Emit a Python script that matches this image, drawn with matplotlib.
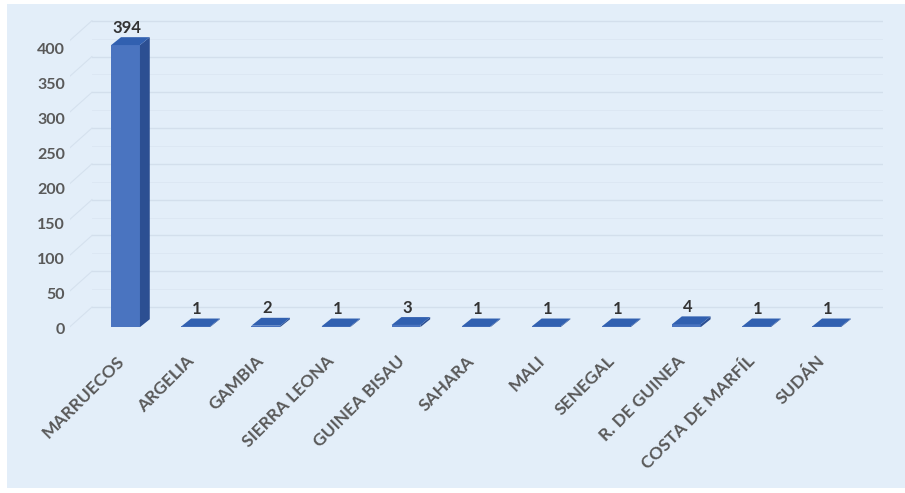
import matplotlib.pyplot as plt
from matplotlib.patches import Polygon, Rectangle

# data
paises = ["MARRUECOS", "ARGELIA", "GAMBIA", "SIERRA LEONA", "GUINEA BISAU",
          "SAHARA", "MALI", "SENEGAL", "R. DE GUINEA", "COSTA DE MARFÍL", "SUDÁN"]
casos = [394, 1, 2, 1, 3, 1, 1, 1, 4, 1, 1]
ticks_y = [0, 50, 100, 150, 200, 250, 300, 350, 400]

plt.rcParams['font.family'] = ['Lato', 'DejaVu Sans']

W, H = 905, 493
fig = plt.figure(figsize=(W / 100, H / 100), dpi=100)
fig.patch.set_facecolor('white')
# light blue panel with a thin white frame
fig.patches.append(Rectangle((7 / W, 5 / H), 1 - 7 / W, 1 - 9 / H,
                             transform=fig.transFigure, facecolor='#e3eef9',
                             edgecolor='none', zorder=-10))

# axes: x from 69.5 to 882.7 px, y from 20 to 340 px
left, right, top, bottom = 69.5, 882.7, 20, 340
ax = fig.add_axes([left / W, 1 - bottom / H, (right - left) / W, (bottom - top) / H])
ax.set_xlim(-0.8, 10.8)
ax.set_ylim(-18, 429)
ax.axis('off')

# depth offsets (bar and back wall)
bdx, bdy = 0.14, 11
wdx, wdy = 0.32, 28
bw = 0.41

# back wall gridlines and left wall diagonals
for v in ticks_y:
    ax.plot([-0.8 + wdx, 10.8], [v + wdy, v + wdy], color='#d3dfec', lw=1.0, zorder=1)
    ax.plot([-0.8, -0.8 + wdx], [v, v + wdy], color='#d5e1ee', lw=0.8, zorder=1)
    ax.plot([-0.8 + wdx, 10.8], [v + 25 + wdy, v + 25 + wdy], color='#dbe6f2', lw=0.6, zorder=1)

x = list(range(len(paises)))
ax.bar(x, casos, width=bw, color='#4a74c0', edgecolor='none', zorder=3)
for xi, v in zip(x, casos):
    r = xi + bw / 2
    l = xi - bw / 2
    side = Polygon([(r, 0), (r + bdx, bdy), (r + bdx, v + bdy), (r, v)],
                   closed=True, facecolor='#2c4f92', edgecolor='none', zorder=3)
    tope = Polygon([(l, v), (r, v), (r + bdx, v + bdy), (l + bdx, v + bdy)],
                   closed=True, facecolor='#3160b0', edgecolor='none', zorder=4)
    ax.add_patch(side)
    ax.add_patch(tope)
    ax.text(xi + 0.02, v + bdy + 2, str(v), ha='center', va='bottom',
            fontsize=12, fontweight='bold', color='#333333', zorder=5)

# y tick labels (slightly different scale from the front plane)
for v in ticks_y:
    ax.text(-0.865, (330 - 0.70 * v - 327) / -0.716, str(v), ha='right', va='center',
            fontsize=11.5, fontweight='bold', color='#595959', clip_on=False)

# category labels rotated
for xi, nombre in zip(x, paises):
    ax.text(xi - 0.14, -36, nombre, rotation=45, ha='right', va='top',
            rotation_mode='anchor', fontsize=12.5, fontweight='bold',
            color='#595959', clip_on=False)

plt.savefig('out.png', dpi=100, facecolor=fig.get_facecolor())
